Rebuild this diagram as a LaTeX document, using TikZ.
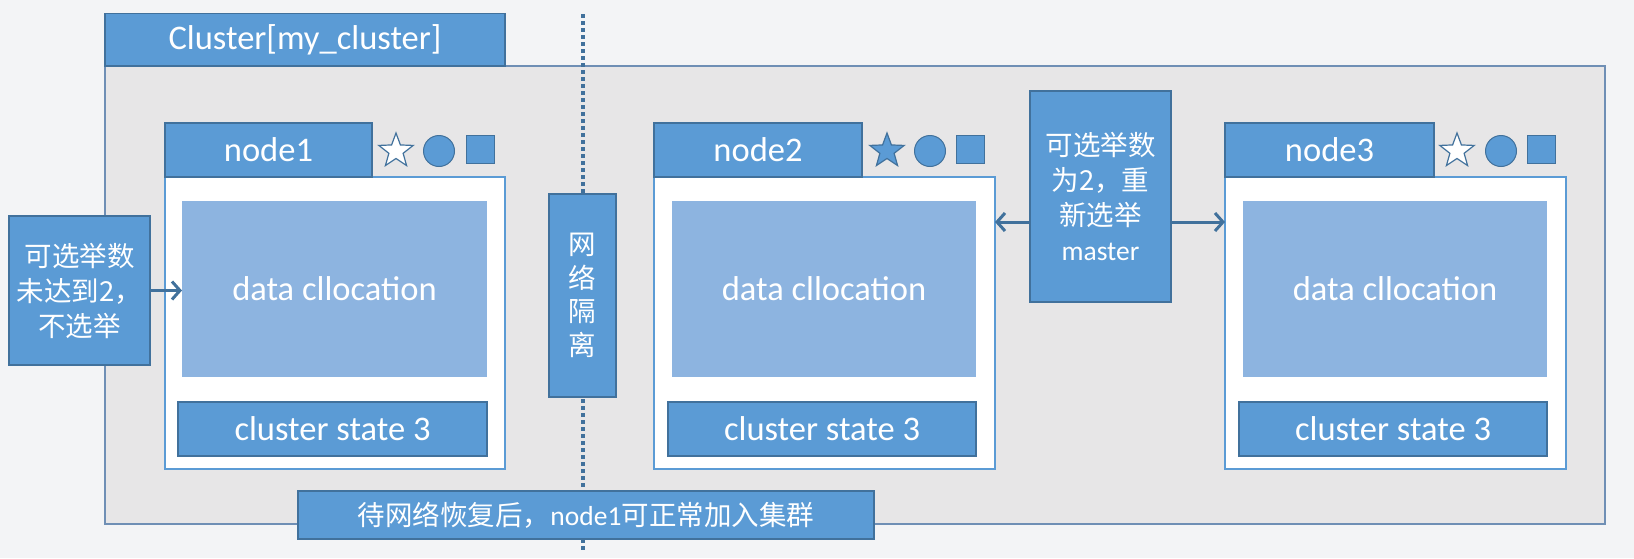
\documentclass[tikz,border=0pt]{standalone}
\usepackage{fontspec}
\setmainfont{Carlito}
\newfontfamily\cjk{Noto Sans CJK SC}
\usetikzlibrary{shapes.geometric,arrows.meta}
\definecolor{bgc}{HTML}{F3F4F6}
\definecolor{clgray}{HTML}{E7E6E7}
\definecolor{clborder}{HTML}{6F8FB5}
\definecolor{tabblue}{HTML}{5B9BD5}
\definecolor{tabborder}{HTML}{41719C}
\definecolor{datablue}{HTML}{8DB4E0}
\definecolor{arrowc}{HTML}{41719C}
\begin{document}
\begin{tikzpicture}[x=1pt,y=-1pt,
  box/.style={anchor=north west, inner sep=0pt, outer sep=0pt, line width=1.2pt},
  bigfont/.style={font=\fontsize{34.5}{40}\selectfont},
  cjkfont/.style={font=\cjk\fontsize{27.5}{35}\selectfont},
  tab/.style={box, fill=tabblue, draw=tabborder, text=white, bigfont},
  clbox/.style={box, fill=clgray, draw=clborder},
  nodebox/.style={box, fill=white, draw=tabblue},
  databox/.style={box, fill=datablue, text=white, bigfont},
  statebox/.style={box, fill=tabblue, draw=tabborder, text=white, bigfont},
  notebox/.style={box, fill=tabblue, draw=tabborder, text=white, cjkfont, align=center},
  staricon/.style={star, star points=5, star point ratio=2.4, minimum size=36pt, inner sep=0pt, draw=tabborder, line width=1.2pt},
  circicon/.style={circle, minimum size=31pt, inner sep=0pt, fill=tabblue, draw=tabborder, line width=1pt},
  sqicon/.style={rectangle, minimum size=28pt, inner sep=0pt, fill=tabblue, draw=tabborder, line width=1pt},
  conn/.style={draw=arrowc, line width=3pt, -{Straight Barb[length=8pt,width=18pt]}},
  dotline/.style={draw=arrowc, line width=3.5pt, dash pattern=on 3.5pt off 3.5pt}
]
\fill[bgc] (0,0) rectangle (1634,558);
\useasboundingbox (0,0) rectangle (1634,558);

% cluster
\node[clbox, minimum width=1500pt, minimum height=458pt] (cl) at (105,66) {};
\node[tab, minimum width=400pt, minimum height=52.5pt] (cltab) at (105,13.5) {Cluster[my\_cluster]};

% dotted partition line
\coordinate (dtop) at (583,14);
\coordinate (dbot) at (583,553);
\draw[dotline] (dtop) -- (dbot);

% node1
\node[nodebox, minimum width=340pt, minimum height=292pt] (n1box) at (165,177) {};
\node[tab, minimum width=207pt, minimum height=54pt] (n1tab) at (165,123) {node1};
\node[databox, minimum width=305pt, minimum height=176pt] (d1) at (182,201) {data cllocation};
\node[statebox, minimum width=309pt, minimum height=54pt] (s1) at (178,402) {cluster state 3};
\node[staricon, fill=white] (st1) at (396,151) {};
\node[circicon] (ci1) at (439,151) {};
\node[sqicon] (sq1) at (480.5,149) {};

% node2
\node[nodebox, minimum width=341pt, minimum height=292pt] (n2box) at (654,177) {};
\node[tab, minimum width=208pt, minimum height=54pt] (n2tab) at (654,123) {node2};
\node[databox, minimum width=304pt, minimum height=176pt] (d2) at (672,201) {data cllocation};
\node[statebox, minimum width=308pt, minimum height=54pt] (s2) at (668,402) {cluster state 3};
\node[staricon, fill=tabblue] (st2) at (887,151) {};
\node[circicon] (ci2) at (930,151) {};
\node[sqicon] (sq2) at (970.5,149) {};

% node3
\node[nodebox, minimum width=341pt, minimum height=292pt] (n3box) at (1225,177) {};
\node[tab, minimum width=209pt, minimum height=54pt] (n3tab) at (1225,123) {node3};
\node[databox, minimum width=304pt, minimum height=176pt] (d3) at (1243,201) {data cllocation};
\node[statebox, minimum width=308pt, minimum height=54pt] (s3) at (1239,402) {cluster state 3};
\node[staricon, fill=white] (st3) at (1457,151) {};
\node[circicon] (ci3) at (1501,151) {};
\node[sqicon] (sq3) at (1541,149) {};

% notes
\node[notebox, minimum width=141pt, minimum height=149pt] (lnote) at (9,216) {可选举数\\未达到2，\\不选举};
\node[notebox, minimum width=67pt, minimum height=203pt, font=\cjk\fontsize{27.5}{33.5}\selectfont] (iso) at (549,194) {网\\络\\隔\\离};
\node[notebox, minimum width=141pt, minimum height=211pt] (mnote) at (1030,91) {可选举数\\为2，重\\新选举\\{\rmfamily master}};
\node[notebox, minimum width=576pt, minimum height=48pt] (bnote) at (298,491) {待网络恢复后，{\rmfamily node1}可正常加入集群};

% connectors
\coordinate (ay) at (0,222);
\draw[conn] (lnote.east) -- (lnote.east -| d1.west);
\draw[conn] (mnote.west |- ay) -- (n2box.east |- ay);
\draw[conn] (mnote.east |- ay) -- (n3box.west |- ay);
\end{tikzpicture}
\end{document}
